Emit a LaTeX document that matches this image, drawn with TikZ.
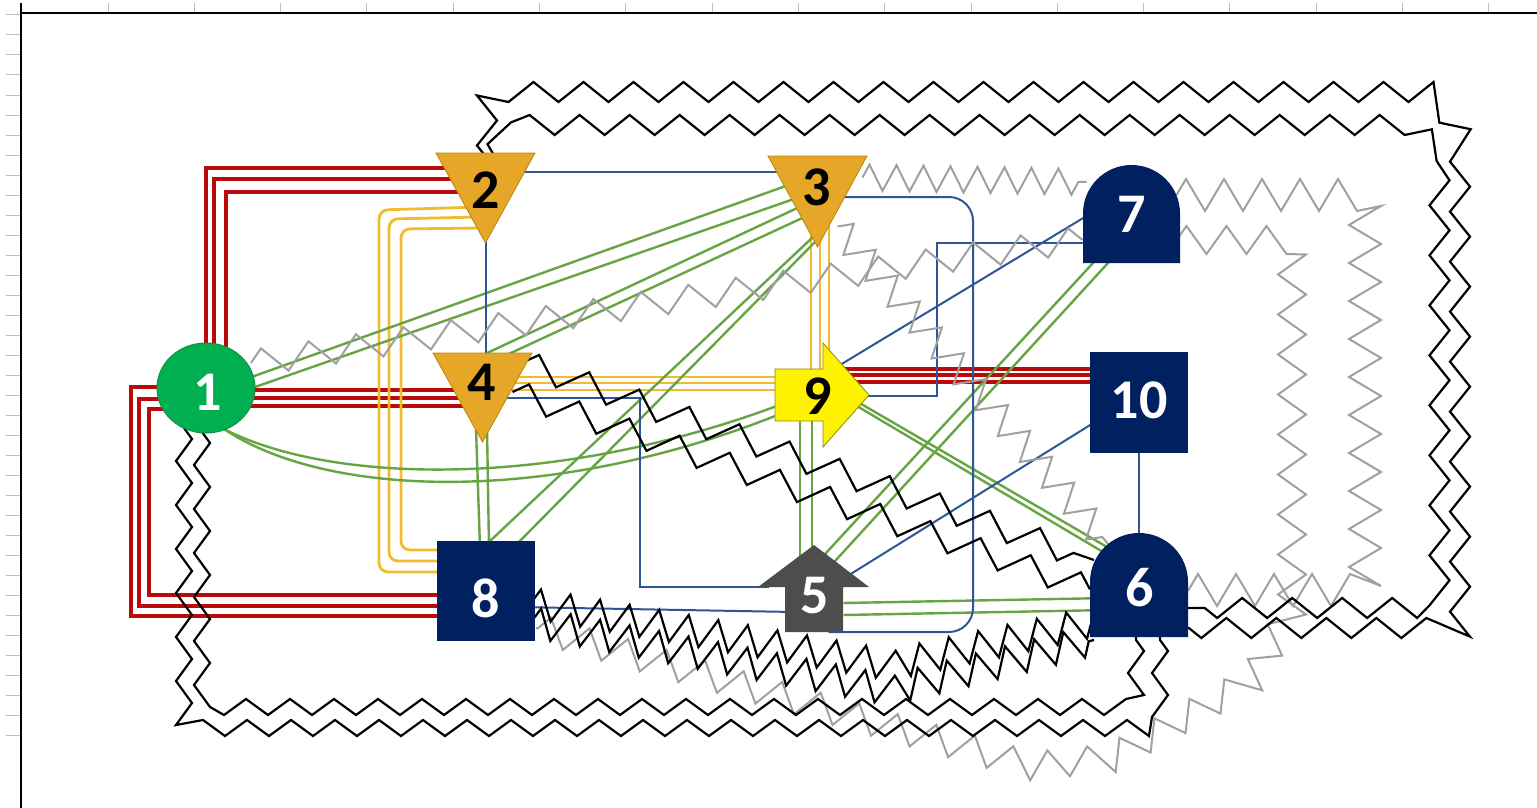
\documentclass[tikz,border=0pt]{standalone}
\usepackage{fontspec}
\setmainfont{Carlito}
\usetikzlibrary{shapes.geometric,decorations.pathmorphing,calc}
\pgfdeclarelayer{background}
\pgfsetlayers{background,main}

\definecolor{redln}{HTML}{BA0A0A}
\definecolor{goldln}{HTML}{F0BC2E}
\definecolor{greenln}{HTML}{67A443}
\definecolor{blueln}{HTML}{2E5597}
\definecolor{grayzz}{HTML}{A0A0A0}
\definecolor{trifill}{HTML}{E6A628}
\definecolor{triedge}{HTML}{B8860B}
\definecolor{navy}{HTML}{002060}
\definecolor{arrowgray}{HTML}{4D4D4D}
\definecolor{arrowedge}{HTML}{8F8A00}
\definecolor{nodegreen}{HTML}{00B050}
\definecolor{nodegreenedge}{HTML}{1A8C46}
\definecolor{tickgray}{HTML}{BDBDBD}

\begin{document}
\begin{tikzpicture}[x=1pt, y=-1pt,
  holder/.style 2 args={inner sep=0pt, outer sep=0pt, minimum width=#1, minimum height=#2},
  lbl/.style={inner sep=0pt, font=\bfseries\fontsize{56}{56}\selectfont},
  tickmark/.style={draw=tickgray, line width=1pt},
  redwire/.style={draw=redln, line width=3.3pt},
  goldwire/.style={draw=goldln, line width=2.8pt},
  greenwire/.style={draw=greenln, line width=2.4pt},
  bluewire/.style={draw=blueln, line width=2pt},
  zig/.style 2 args={decorate, decoration={zigzag, segment length=#1, amplitude=#2}},
  blackzig/.style={draw=black, line width=2.2pt},
  grayzig/.style={draw=grayzz, line width=2pt},
  trishape/.style={fill=trifill, draw=triedge, line width=0.8pt}
]
\useasboundingbox (0,0) rectangle (1537,808);

% ---- nodes ----
\node[holder={98pt}{90pt}, ellipse, fill=nodegreen, draw=nodegreenedge, line width=1pt] (n1) at (206,388) {};
\node[holder={99pt}{90pt}] (n2) at (485.5,198) {};
\node[holder={99pt}{91pt}] (n3) at (817.5,201.5) {};
\node[holder={99pt}{89pt}] (n4) at (482.5,397.5) {};
\node[holder={111pt}{87pt}] (n5) at (813.5,588.5) {};
\node[holder={98pt}{104pt}] (n6) at (1139,585) {};
\node[holder={97pt}{98pt}] (n7) at (1131.5,214) {};
\node[holder={98pt}{100pt}, fill=navy] (n8) at (486,591) {};
\node[holder={94pt}{104pt}] (n9) at (822,395) {};
\node[holder={98pt}{101pt}, fill=navy] (n10) at (1139,402.5) {};

% ---- node outlines ----
\filldraw[trishape] (n2.north west) -- (n2.north east) -- (n2.south) -- cycle;
\filldraw[trishape] (n3.north west) -- (n3.north east) -- (n3.south) -- cycle;
\filldraw[trishape] (n4.north west) -- (n4.north east) -- (n4.south) -- cycle;
\filldraw[fill=yellow, draw=arrowedge, line width=0.8pt, shift={(n9.center)}]
  (-47,-26) -- (1,-26) -- (1,-52) -- (47,0) -- (1,52) -- (1,26) -- (-47,26) -- cycle;
\fill[arrowgray, shift={(n5.center)}]
  (0.5,-43.5) -- (55.5,-1.5) -- (29.5,-1.5) -- (29.5,43.5) -- (-28.5,43.5) -- (-28.5,-1.5) -- (-55.5,-1.5) -- cycle;
\fill[navy] (n7.south west) -- (n7.south east) -- ($(n7.north east)+(0,48.5)$)
  arc[start angle=0, end angle=-180, radius=48.5] -- cycle;
\fill[navy] (n6.south west) -- (n6.south east) -- ($(n6.north east)+(0,49)$)
  arc[start angle=0, end angle=-180, radius=49] -- cycle;

% ---- labels ----
\node[lbl, text=white] (l1) at (208,392) {1};
\node[lbl] (l2) at (486,190) {2};
\node[lbl] (l3) at (817,187) {3};
\node[lbl] (l4) at (482,382) {4};
\node[lbl, text=white] (l5) at (815,596) {5};
\node[lbl, text=white] (l6) at (1140,588) {6};
\node[lbl, text=white] (l7) at (1132,214) {7};
\node[lbl, text=white] (l8) at (486,598) {8};
\node[lbl] (l9) at (818,396) {9};
\node[lbl, text=white] (l10) at (1139,400) {10};

\begin{pgfonlayer}{background}
\fill[white] (0,0) rectangle (1537,808);
% sheet edges with ruler ticks
\foreach \k in {0,...,16} \draw[tickmark] ({108+86.3*\k},3) -- ({108+86.3*\k},13);
\foreach \k in {0,...,36} \draw[tickmark] (6,{15+20*\k}) -- (21,{15+20*\k});
\draw[line width=2.2pt] (21,3) -- (21,808);
\draw[line width=2.2pt] (21,13) -- (1537,13);

% red triple links
\draw[redwire] ($(n1.center)+(0,-30)$) |- ($(n2.center)+(-15,-30)$);
\draw[redwire] ($(n1.center)+(8,-30)$) |- ($(n2.center)+(-15,-19)$);
\draw[redwire] ($(n1.center)+(20,-30)$) |- ($(n2.center)+(-15,-6)$);
\draw[redwire] ($(n1.center)+(0,2)$) -- ($(n4.center)+(-5,-7.5)$);
\draw[redwire] ($(n1.center)+(0,10)$) -- ($(n4.center)+(-5,0.5)$);
\draw[redwire] ($(n1.center)+(0,18)$) -- ($(n4.center)+(-5,8.5)$);
\draw[redwire] ($(n1.center)+(0,-1)$) -- ++(-75,0) |- ($(n8.center)+(-20,25)$);
\draw[redwire] ($(n1.center)+(0,11)$) -- ++(-67,0) |- ($(n8.center)+(-20,15)$);
\draw[redwire] ($(n1.center)+(0,21)$) -- ++(-57,0) |- ($(n8.center)+(-20,4)$);
\draw[redwire] ($(n9.center)+(20,-26)$) -- ($(n10.center)+(-30,-33.5)$);
\draw[redwire] ($(n9.center)+(20,-20)$) -- ($(n10.center)+(-30,-27.5)$);
\draw[redwire] ($(n9.center)+(20,-13)$) -- ($(n10.center)+(-30,-20.5)$);

% gold triple links
\draw[goldwire, rounded corners=9pt] ($(n2.center)+(-5,9)$) -- ($(n2.center)+(-106.5,12)$) |- ($(n8.center)+(-30,-19)$);
\draw[goldwire, rounded corners=9pt] ($(n2.center)+(-5,19)$) -- ($(n2.center)+(-96.5,21)$) |- ($(n8.center)+(-30,-30)$);
\draw[goldwire, rounded corners=9pt] ($(n2.center)+(-3,30)$) -- ($(n2.center)+(-84.5,31)$) |- ($(n8.center)+(-30,-41)$);
\draw[goldwire] ($(n4.center)+(15,-20.5)$) -- ($(n9.center)+(-30,-18)$);
\draw[goldwire] ($(n4.center)+(15,-14.5)$) -- ($(n9.center)+(-30,-12)$);
\draw[goldwire] ($(n4.center)+(15,-7.5)$) -- ($(n9.center)+(-30,-5)$);
\draw[goldwire] ($(n3.center)+(-6.5,18.5)$) -- ($(n9.center)+(-11,-15)$);
\draw[goldwire] ($(n3.center)+(2.5,18.5)$) -- ($(n9.center)+(-2,-15)$);
\draw[goldwire] ($(n3.center)+(11.5,18.5)$) -- ($(n9.center)+(7,-15)$);

% green double links
\draw[greenwire] ($(n1.center)+(41.6,-9.6)$) -- ($(n3.center)+(-27,-17.2)$);
\draw[greenwire] ($(n1.center)+(39.6,2.3)$) -- ($(n3.center)+(-21.9,-3.1)$);
\draw[greenwire] ($(n3.center)+(-19.1,6)$) -- ($(n4.center)+(-6.1,-39.5)$);
\draw[greenwire] ($(n3.center)+(-10.4,14.3)$) -- ($(n4.center)+(17.5,-39.5)$);
\draw[greenwire] ($(n3.center)+(0.3,31)$) -- ($(n8.center)+(-3.3,-43.1)$);
\draw[greenwire] ($(n3.center)+(1.7,36.2)$) -- ($(n8.center)+(27,-43)$);
\draw[greenwire] ($(n4.center)+(-6.5,30.5)$) -- ($(n8.center)+(-6,-43)$);
\draw[greenwire] ($(n4.center)+(4.5,30.5)$) -- ($(n8.center)+(3,-43)$);
\draw[greenwire] ($(n1.center)+(16,40)$) .. controls +(108,57) and +(-230,89) .. ($(n9.center)+(-32,6)$);
\draw[greenwire] ($(n1.center)+(18,41)$) .. controls +(106,71) and +(-230,95) .. ($(n9.center)+(-32,15)$);
\draw[greenwire] ($(n9.center)+(-22,20)$) -- ($(n5.center)+(-13.5,-28.5)$);
\draw[greenwire] ($(n9.center)+(-10,20)$) -- ($(n5.center)+(-1.5,-28.5)$);
\draw[greenwire] ($(n5.center)+(5.7,-28.1)$) -- ($(n7.center)+(-33.1,43.1)$);
\draw[greenwire] ($(n5.center)+(15.7,-21.1)$) -- ($(n7.center)+(-18.1,43.1)$);
\draw[greenwire] ($(n5.center)+(30,14.5)$) -- ($(n6.center)+(-30,13)$);
\draw[greenwire] ($(n5.center)+(30,26.5)$) -- ($(n6.center)+(-30,25)$);
\draw[greenwire] ($(n9.center)+(32.4,5)$) -- ($(n6.center)+(-23.4,-33)$);
\draw[greenwire] ($(n9.center)+(33,9.9)$) -- ($(n6.center)+(-27.4,-27.9)$);

% blue single links
\draw[bluewire] ($(n2.center)+(30,-26)$) -- ($(n3.center)+(-35,-29.5)$);
\draw[bluewire] ($(n2.center)+(0.5,40)$) -- ($(n4.center)+(3.5,-40)$);
\draw[bluewire] ($(n4.center)+(15,0.5)$) -- ++(142.5,0) |- ($(n5.center)+(-45,-2)$);
\draw[bluewire] ($(n8.center)+(30,16)$) -- ($(n5.center)+(-20,23.5)$);
\draw[bluewire, rounded corners=24pt] ($(n3.center)+(20,-4.5)$) -- ++(135.5,0) |- ($(n5.center)+(15,43.5)$);
\draw[bluewire] ($(n9.center)+(40,1)$) -- ++(75,0) |- ($(n7.center)+(-30,29)$);
\draw[bluewire] ($(n9.center)+(18,-30)$) -- ($(n7.center)+(-40,-1)$);
\draw[bluewire] ($(n5.center)+(30,-10)$) -- ($(n10.center)+(-40,17)$);
\draw[bluewire] ($(n10.center)+(0,40)$) -- ($(n6.center)+(0,-40)$);

% gray zigzag links
\draw[grayzig, zig={48pt}{13pt}] ($(n1.center)+(45,-25)$) -- ($(n7.center)+(-40,24)$);
\draw[grayzig, zig={27pt}{13pt}] ($(n3.center)+(45,-24)$) -- ($(n7.center)+(-45,-32)$);
\draw[grayzig, zig={34pt}{14pt}] ($(n3.center)+(20,25)$) -- ($(n6.center)+(-30,-40)$);
\draw[grayzig, zig={38pt}{16pt}] ($(n7.center)+(45,-19)$) -- ++(188.5,0) |- ($(n6.center)+(45,5)$);
\draw[grayzig, zig={40pt}{14pt}] ($(n7.center)+(45,26)$) -- ++(115.5,0) -- ++(0,370) -- ++(-40,70)
  -- ++(-140,78) -- ++(-80,8) -- ($(n8.center)+(50,37)$);

% black zigzag links
\draw[blackzig, zig={53pt}{12.5pt}] ($(n4.center)+(40,-35)$) -- ($(n6.center)+(-45,-25)$);
\draw[blackzig, zig={53pt}{12.5pt}] ($(n4.center)+(30,-5.5)$) -- ($(n6.center)+(-45,5)$);
\draw[blackzig, zig={50pt}{10pt}] ($(n2.center)+(1.5,-40)$) -- ++(0,-66) -- ++(940,0) -- ++(33,40)
  -- ++(0,496) -- ($(n6.center)+(45,43)$);
\draw[blackzig, zig={50pt}{10pt}] ($(n2.center)+(10,-40)$) -- ++(5,-33) -- ++(912,0) -- ++(27,25)
  -- ++(0,458) -- ($(n6.center)+(45,23)$);
\draw[blackzig, zig={44pt}{8pt}] ($(n1.center)+(-22,40)$) |- ($(n6.center)+(21,143)$) -- ($(n6.center)+(21,45)$);
\draw[blackzig, zig={44pt}{8pt}] ($(n1.center)+(-4,44)$) |- ($(n6.center)+(-3,122)$) -- ($(n6.center)+(-3,45)$);
\draw[blackzig, zig={30pt}{15pt}] ($(n8.center)+(45,12)$) -- ++(359,62) -- ($(n6.center)+(-45,37)$);
\draw[blackzig, zig={30pt}{15pt}] ($(n8.center)+(45,31)$) -- ++(359,68) -- ($(n6.center)+(-45,55)$);
\end{pgfonlayer}
\end{tikzpicture}
\end{document}
